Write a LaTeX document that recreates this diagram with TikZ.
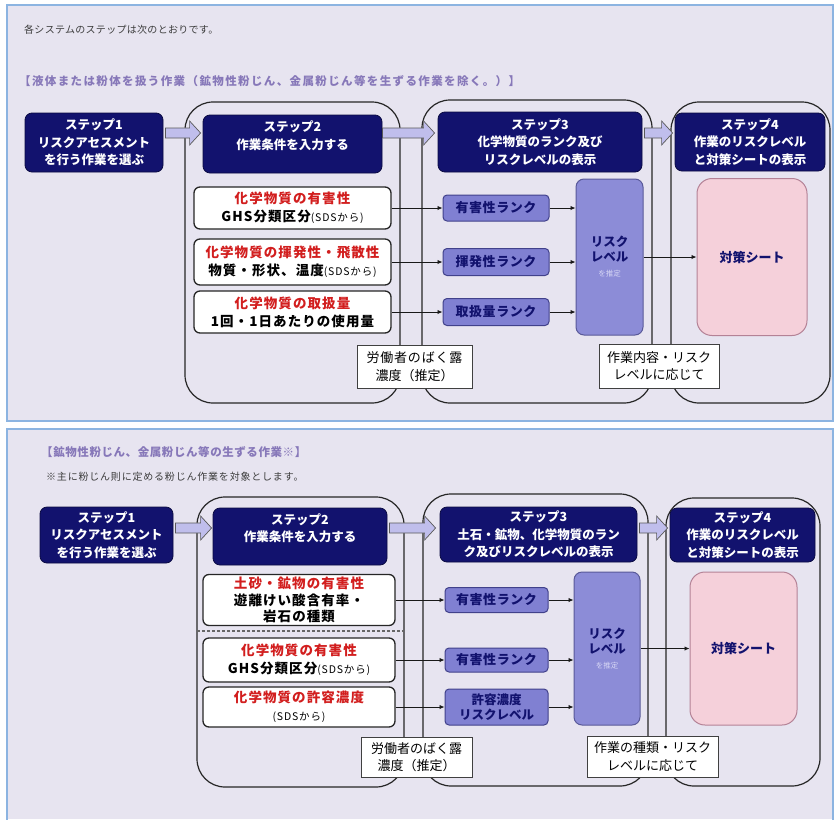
\documentclass[tikz,border=0pt]{standalone}
\usepackage{fontspec}
\setmainfont{Noto Sans CJK JP}
\usetikzlibrary{arrows.meta,calc}
\definecolor{panelbg}{RGB}{231,228,240}
\definecolor{panelline}{RGB}{140,180,225}
\definecolor{navy}{RGB}{18,18,110}
\definecolor{arrowfill}{RGB}{192,190,236}
\definecolor{rankfill}{RGB}{128,128,210}
\definecolor{riskfill}{RGB}{140,140,215}
\definecolor{risksub}{RGB}{215,215,245}
\definecolor{sheetfill}{RGB}{245,208,218}
\definecolor{sheetline}{RGB}{180,130,150}
\definecolor{titlecol}{RGB}{135,120,185}
\definecolor{redtxt}{RGB}{210,30,30}
\definecolor{graytxt}{RGB}{60,60,60}
\newcommand\fs[2]{\fontsize{#1}{#2}\selectfont}
\newcommand\redt[1]{\textcolor{redtxt}{#1}}
\newcommand\smallp[1]{{\mdseries\fontsize{10.5}{18}\selectfont #1}}
\newcommand\blockarrow[2]{\draw[blockarr] let \p1=(#1), \p2=(#2) in
  (\x1,\y1+5pt) -- (\x2-11pt,\y1+5pt) -- (\x2-11pt,\y1+12pt) -- (\x2,\y1)
  -- (\x2-11pt,\y1-12pt) -- (\x2-11pt,\y1-5pt) -- (\x1,\y1-5pt) -- cycle;}
\begin{document}
\begin{tikzpicture}[x=1pt,y=-1pt,
  panel/.style={draw=panelline, line width=1.3pt, fill=panelbg},
  container/.style={draw=black!85, line width=1.2pt, rounded corners=28pt},
  stepbox/.style={draw=navy!60!black, fill=navy, line width=0.8pt, rounded corners=7pt,
    text=white, align=center, inner sep=0pt, font=\bfseries\fs{12.5}{17.5}},
  blockarr/.style={draw=black!65, fill=arrowfill, line width=0.7pt, line join=miter},
  inbox/.style={draw=black!85, fill=white, line width=1.3pt, rounded corners=6pt,
    align=center, inner sep=0pt, font=\bfseries\fs{13.5}{18}\addfontfeatures{LetterSpace=8}},
  rankbox/.style={draw=navy!80, fill=rankfill, line width=1pt, rounded corners=4pt,
    align=center, inner sep=0pt, text=navy, font=\bfseries\fs{13}{15}\addfontfeatures{LetterSpace=4}},
  riskbox/.style={draw=navy!70, fill=riskfill, line width=1pt, rounded corners=8pt,
    align=center, inner sep=0pt, text=navy, font=\bfseries\fs{12.5}{15}},
  sheetbox/.style={draw=sheetline, fill=sheetfill, line width=1pt, rounded corners=15pt,
    text=navy, inner sep=0pt, font=\bfseries\fs{13}{15}},
  notebox/.style={draw=black!75, fill=white, line width=0.9pt, align=center,
    inner sep=0pt, font=\fs{13}{17.5}},
  link/.style={-{Latex[length=5pt,width=4.5pt]}, line width=0.9pt, draw=black!90}
]
\useasboundingbox (0,0) rectangle (840,819);
\fill[white] (0,0) rectangle (840,819);
% ---------------- panel 1 ----------------
\draw[panel] (7,5) rectangle (833,421);
\node[anchor=west, text=graytxt, inner sep=0pt, font=\fs{10}{12}\addfontfeatures{LetterSpace=3}] (hdr) at (24,30) {各システムのステップは次のとおりです。};
\node[anchor=west, text=titlecol, inner sep=0pt, font=\bfseries\fs{11.5}{14}\addfontfeatures{LetterSpace=12}] (ttl1) at (19,81) {【液体または粉体を扱う作業（鉱物性粉じん、金属粉じん等を生ずる作業を除く。）】};

\draw[container] (185,102) rectangle (400,403);
\draw[container] (422,100) rectangle (652,403);
\draw[container] (671,102) rectangle (830,403);

\node[stepbox, minimum width=138pt, minimum height=59pt] (s1) at (94,142.5) {ステップ1\\リスクアセスメント\\を行う作業を選ぶ};
\node[stepbox, minimum width=179pt, minimum height=58pt] (s2) at (292.5,144) {ステップ2\\作業条件を入力する\\ \mbox{}};
\node[stepbox, minimum width=204pt, minimum height=60pt] (s3) at (540,142) {ステップ3\\化学物質のランク及び\\リスクレベルの表示};
\node[stepbox, minimum width=150pt, minimum height=58pt] (s4) at (750,142) {ステップ4\\作業のリスクレベル\\と対策シートの表示};

\coordinate (ay1) at (0,133);
\blockarrow{$(s1.east |- ay1)+(2pt,0)$}{$(s2.west |- ay1)+(-2pt,0)$}
\blockarrow{s2.east |- ay1}{$(s3.west |- ay1)+(-3pt,0)$}
\blockarrow{$(s3.east |- ay1)+(2pt,0)$}{$(s4.west |- ay1)+(-2pt,0)$}

\node[inbox, minimum width=197pt, minimum height=42pt] (inA) at (292.5,208) {\redt{化学物質の有害性}\\GHS分類区分\smallp{(SDSから)}};
\node[inbox, minimum width=197pt, minimum height=46pt] (inB) at (292.5,262) {\redt{化学物質の揮発性・飛散性}\\物質・形状、温度\smallp{(SDSから)}};
\node[inbox, minimum width=197pt, minimum height=42pt] (inC) at (292.5,312) {\redt{化学物質の取扱量}\\1回・1日あたりの使用量};

\node[rankbox, minimum width=106pt, minimum height=26pt] (r1) at (496,208) {有害性ランク};
\node[rankbox, minimum width=106pt, minimum height=27pt] (r2) at (496,262) {揮発性ランク};
\node[rankbox, minimum width=106pt, minimum height=27pt] (r3) at (496,312) {取扱量ランク};

\node[riskbox, minimum width=67pt, minimum height=156pt] (risk) at (609.5,257) {リスク\\レベル\\{\mdseries\color{risksub}\fs{7.5}{12}を推定}};
\node[sheetbox, minimum width=110pt, minimum height=157pt] (sheet) at (752,257) {対策シート};

\draw[link] (inA.east) -- (r1.west);
\draw[link] (inB.east) -- (r2.west);
\draw[link] (inC.east) -- (r3.west);
\draw[link] (r1.east) -- (r1.east -| risk.west);
\draw[link] (r2.east) -- (r2.east -| risk.west);
\draw[link] (r3.east) -- (r3.east -| risk.west);
\draw[link] (risk.east) -- (sheet.west);

\node[notebox, minimum width=115pt, minimum height=43pt] (n1) at (414.5,366.5) {\addfontfeatures{LetterSpace=6}労働者のばく露\\濃度（推定）};
\node[notebox, minimum width=120pt, minimum height=44pt] (n2) at (659,366) {作業内容・リスク\\レベルに応じて};

% ---------------- panel 2 ----------------
\fill[panelbg] (7,429) rectangle (833,819);
\draw[panelline, line width=1.3pt] (7,822) -- (7,429) -- (833,429) -- (833,822);
\node[anchor=west, text=titlecol, inner sep=0pt, font=\bfseries\fs{11.5}{14}\addfontfeatures{LetterSpace=5}] (ttl2) at (41,452) {【鉱物性粉じん、金属粉じん等の生ずる作業※】};
\node[anchor=west, text=graytxt, inner sep=0pt, font=\fs{10}{12}\addfontfeatures{LetterSpace=8}] (sub2) at (46,477) {※主に粉じん則に定める粉じん作業を対象とします。};

\draw[container] (197,497) rectangle (404,787);
\draw[container] (423,494) rectangle (648,786);
\draw[container] (666,498) rectangle (820,786);

\node[stepbox, minimum width=133pt, minimum height=56pt] (t1) at (106.5,535) {ステップ1\\リスクアセスメント\\を行う作業を選ぶ};
\node[stepbox, minimum width=174pt, minimum height=57pt] (t2) at (300,536.5) {ステップ2\\作業条件を入力する\\ \mbox{}};
\node[stepbox, minimum width=197pt, minimum height=55pt] (t3) at (538.5,534.5) {ステップ3\\土石・鉱物、化学物質のラン\\ク及びリスクレベルの表示};
\node[stepbox, minimum width=145pt, minimum height=54pt] (t4) at (742.5,535) {ステップ4\\作業のリスクレベル\\と対策シートの表示};

\coordinate (ay2) at (0,528);
\blockarrow{$(t1.east |- ay2)+(2pt,0)$}{$(t2.west |- ay2)+(-1pt,0)$}
\blockarrow{$(t2.east |- ay2)+(2pt,0)$}{$(t3.west |- ay2)+(-4pt,0)$}
\blockarrow{$(t3.east |- ay2)+(2pt,0)$}{$(t4.west |- ay2)+(-2pt,0)$}

\node[inbox, minimum width=192pt, minimum height=51pt, font=\bfseries\fs{13.5}{16.5}\addfontfeatures{LetterSpace=8}] (iA) at (299,600) {\redt{土砂・鉱物の有害性}\\遊離けい酸含有率・\\岩石の種類};
\draw[black!60, line width=1.2pt, dash pattern=on 3pt off 2pt] (197,631) -- (404,631);
\node[inbox, minimum width=192pt, minimum height=44pt] (iB) at (299,660) {\redt{化学物質の有害性}\\GHS分類区分\smallp{(SDSから)}};
\node[inbox, minimum width=192pt, minimum height=40pt] (iC) at (299,707) {\redt{化学物質の許容濃度}\\\smallp{(SDSから)}};

\node[rankbox, minimum width=103pt, minimum height=25pt] (q1) at (496.5,600) {有害性ランク};
\node[rankbox, minimum width=103pt, minimum height=24pt] (q2) at (496.5,660) {有害性ランク};
\node[rankbox, minimum width=103pt, minimum height=36pt, font=\bfseries\fs{12.5}{15}] (q3) at (496.5,707) {許容濃度\\リスクレベル};

\node[riskbox, minimum width=66pt, minimum height=153pt] (risk2) at (607,648.5) {リスク\\レベル\\{\mdseries\color{risksub}\fs{7.5}{12}を推定}};
\node[sheetbox, minimum width=107pt, minimum height=153pt] (sheet2) at (743.5,648.5) {対策シート};

\draw[link] (iA.east) -- (q1.west);
\draw[link] (iB.east) -- (q2.west);
\draw[link] (iC.east) -- (q3.west);
\draw[link] (q1.east) -- (q1.east -| risk2.west);
\draw[link] (q2.east) -- (q2.east -| risk2.west);
\draw[link] (q3.east) -- (q3.east -| risk2.west);
\draw[link] (risk2.east) -- (sheet2.west);

\node[notebox, minimum width=111pt, minimum height=40pt] (m1) at (416.5,757) {労働者のばく露\\濃度（推定）};
\node[notebox, minimum width=131pt, minimum height=41pt] (m2) at (652.5,756.5) {作業の種類・リスク\\レベルに応じて};
\end{tikzpicture}
\end{document}
